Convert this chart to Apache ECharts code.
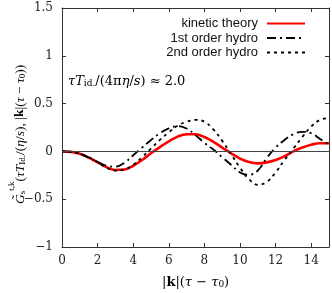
<!DOCTYPE html>
<html><head><meta charset="utf-8">
<script src="https://cdn.jsdelivr.net/npm/echarts@6/dist/echarts.min.js"></script>
<style>html,body{margin:0;padding:0;background:#fff}#c{width:332px;height:293px}</style>
</head><body><div id="c"></div>
<script>
var xs = [0,0.5,1,1.5,2,2.5,3,3.5,4,4.5,5,5.5,6,6.5,7,7.5,8,8.5,9,9.5,10,10.5,11,11.5,12,12.5,13,13.5,14,14.5,15];
var kinetic = [0,-0.005,-0.025,-0.065,-0.115,-0.165,-0.195,-0.19,-0.15,-0.09,-0.02,0.045,0.105,0.155,0.18,0.18,0.15,0.1,0.04,-0.02,-0.075,-0.11,-0.125,-0.115,-0.09,-0.05,0.0,0.04,0.07,0.085,0.085];
var hydro1 = [0,-0.005,-0.025,-0.065,-0.11,-0.15,-0.16,-0.12,-0.04,0.04,0.12,0.19,0.24,0.265,0.24,0.17,0.09,0.02,-0.06,-0.14,-0.22,-0.245,-0.2,-0.07,0.04,0.12,0.18,0.205,0.19,0.13,0.07];
var hydro2 = [0,-0.005,-0.025,-0.06,-0.11,-0.17,-0.2,-0.19,-0.14,-0.06,0.03,0.12,0.2,0.27,0.31,0.33,0.31,0.23,0.11,-0.03,-0.17,-0.29,-0.35,-0.32,-0.22,-0.09,0.03,0.15,0.26,0.33,0.35];
var names = ['kinetic theory','1st order hydro','2nd order hydro'];
var xTicks = {min:0, max:15, interval:2};
var yTicks = {min:-1, max:1.5, interval:0.5};

function pairs(v){ return xs.map(function(x,i){return [x,v[i]];}); }
var serif = 'DejaVu Serif';
var tserif = 'Liberation Serif';
var axisCol = '#333';
var chart = echarts.init(document.getElementById('c'));
function legend(name, top){
  return {data:[name], right:21, top:top, align:'right', itemWidth:38, itemHeight:10, itemGap:0,
    itemStyle:{opacity:0},
    textStyle:{fontFamily:'Liberation Sans', fontSize:13, color:'#111', padding:[0,4,0,0]}, selectedMode:false};
}
chart.setOption({
  animation:false,
  grid:{left:62, right:3, top:8, bottom:46},
  legend:[legend(names[0],12), legend(names[1],26.5), legend(names[2],41)],
  xAxis:[
    {type:'value', min:xTicks.min, max:xTicks.max, interval:xTicks.interval,
     axisLine:{onZero:false, lineStyle:{color:axisCol, width:1}},
     axisTick:{inside:true, length:4, lineStyle:{color:axisCol}},
     axisLabel:{fontFamily:serif, fontSize:12, color:'#222', margin:8, showMaxLabel:false},
     splitLine:{show:false}},
    {type:'value', position:'top', min:xTicks.min, max:xTicks.max, interval:xTicks.interval,
     axisLine:{onZero:false, lineStyle:{color:axisCol, width:1}},
     axisTick:{inside:true, length:4, lineStyle:{color:axisCol}},
     axisLabel:{show:false}, splitLine:{show:false}}
  ],
  yAxis:[
    {type:'value', min:yTicks.min, max:yTicks.max, interval:yTicks.interval,
     axisLine:{show:true, onZero:false, lineStyle:{color:axisCol, width:1}},
     axisTick:{show:true, inside:true, length:4, lineStyle:{color:axisCol}},
     axisLabel:{fontFamily:serif, fontSize:12, color:'#222', margin:9,
       formatter:function(v){return String(v).replace('-','\u2212');}},
     splitLine:{show:false}},
    {type:'value', position:'right', min:yTicks.min, max:yTicks.max, interval:yTicks.interval,
     axisLine:{show:true, onZero:false, lineStyle:{color:axisCol, width:1}},
     axisTick:{show:true, inside:true, length:4, lineStyle:{color:axisCol}},
     axisLabel:{show:false}, splitLine:{show:false}}
  ],
  series:[
    {name:names[0], type:'line', data:pairs(kinetic), smooth:0.4, symbol:'none', z:3,
     lineStyle:{color:'#ff0000', width:2.6}, itemStyle:{color:'#ff0000'},
     markLine:{silent:true, symbol:'none', label:{show:false},
       lineStyle:{color:'#444', width:1, type:'solid'}, data:[{yAxis:0}]}},
    {name:names[1], type:'line', data:pairs(hydro1), smooth:0.4, symbol:'none', z:4,
     lineStyle:{color:'#000', width:1.8, type:[9,4,2,4]}, itemStyle:{color:'#000'}},
    {name:names[2], type:'line', data:pairs(hydro2), smooth:0.4, symbol:'none', z:4,
     lineStyle:{color:'#000', width:1.8, type:[3,4]}, itemStyle:{color:'#000'}}
  ],
  graphic:[
    {type:'text', left:68, top:75, style:{
      rich:{it:{fontFamily:serif, fontStyle:'italic', fontSize:13, color:'#222', verticalAlign:'bottom', lineHeight:18},
            rm:{fontFamily:serif, fontSize:13, color:'#222', verticalAlign:'bottom', lineHeight:18},
            sub:{fontFamily:serif, fontSize:9, color:'#222', verticalAlign:'bottom', lineHeight:14}},
      text:'{it|\u03c4T}{sub|id.}{rm|/(4\u03c0}{it|\u03b7}{rm|/}{it|s}{rm|) \u2248 2.0}'}},
    {type:'text', left:162, top:276, style:{
      rich:{it:{fontFamily:serif, fontStyle:'italic', fontSize:13, color:'#222', verticalAlign:'bottom', lineHeight:18},
            rm:{fontFamily:serif, fontSize:13, color:'#222', verticalAlign:'bottom', lineHeight:18},
            bf:{fontFamily:serif, fontWeight:'bold', fontSize:13, color:'#222', verticalAlign:'bottom', lineHeight:18},
            sub:{fontFamily:serif, fontSize:9, color:'#222', verticalAlign:'bottom', lineHeight:14}},
      text:'{rm||}{bf|k}{rm||(}{it|\u03c4}{rm| \u2212 }{it|\u03c4}{sub|0}{rm|)}'}},
    {type:'text', x:7, y:204, rotation:Math.PI/2, style:{
      rich:{it:{fontFamily:tserif, fontStyle:'italic', fontSize:13.5, color:'#222', verticalAlign:'bottom', lineHeight:18},
            rm:{fontFamily:tserif, fontSize:13.5, color:'#222', verticalAlign:'bottom', lineHeight:18},
            bf:{fontFamily:tserif, fontWeight:'bold', fontSize:13.5, color:'#222', verticalAlign:'bottom', lineHeight:18},
            sub:{fontFamily:tserif, fontSize:9, color:'#222', verticalAlign:'bottom', lineHeight:15},
            sup:{fontFamily:tserif, fontSize:9, color:'#222', verticalAlign:'top', lineHeight:20}},
      text:'{it|G\u0303}{sub|s}{sup|t,k}{rm|(}{it|\u03c4T}{sub|Id.}{rm|/(}{it|\u03b7}{rm|/}{it|s}{rm|), |}{bf|k}{rm||(}{it|\u03c4}{rm| \u2212 }{it|\u03c4}{sub|0}{rm|))}'}}
  ]
});
</script></body></html>
